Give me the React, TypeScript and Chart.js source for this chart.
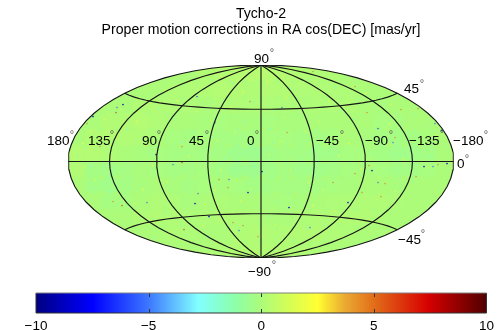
import React, { useEffect, useRef } from "react";
import { Chart, registerables } from "chart.js";

Chart.register(...registerables);

const titleLines = ["Tycho-2", "Proper motion corrections in RA cos(DEC) [mas/yr]"];
const meridians = [-180, -135, -90, -45, 0, 45, 90, 135, 180];
const parallels = [-45, 0, 45];
const colorbarTicks = [-10, -5, 0, 5, 10];

// colour scale
const scaleStops = [-10, -7.5, -5, -2.8, -1.2, 0, 2.5, 3.7, 5, 7.4, 10];
const scaleColours = [[0,0,130],[0,0,255],[60,120,255],[130,255,255],[140,255,170],[172,252,122],[255,255,50],[235,170,50],[225,110,25],[215,0,0],[80,0,0]];

// map plane units: x across, y up, centre of the ellipse at 0,0
const speckX = [-168,-138,-145,-144,-174,-64,-79,-105,-161,-188,-46,-88,-79,-104,163,186,172,177,111,108,94,117,124,101,120,87,28,49,1,72,155,21,80,106,140,117,174,181,157,132,12,26,52,94,-11,134,-139,-148,-114,-66,-13,-42,-77,-65,-52,-53,-18,-22,-63,-171,-169,-32,-33,-28,-108,-3];
const speckY = [45,57,49,54,38,65,15,7,15,5,39,-3,-1,-1,-5,-2,-5,-3,-9,-4,-12,-21,-22,-31,-35,-41,-46,-66,-10,-21,-15,54,51,49,52,33,38,31,53,19,19,29,90,75,60,24,-44,-40,-41,-42,-31,-18,-68,-67,-55,-76,-64,-69,-32,-5,-27,-18,-26,-61,-76,-75];
const speckValue = [-9,-9,7,-6,5,-7,5,-9,5,3,-6,-6,7,5,-9,-9,-6,5,-9,5,5,-6,5,5,5,-9,-9,-6,-9,5,5,-6,-3,5,5,-8,-6,-9,5,-6,-3,5,5,5,5,5,7,5,-6,-9,-9,5,7,5,-9,-3,5,-6,-6,-3,-3,-6,5,5,-3,5];

// fine grain of the sky, estimated
const grainX = [-40,-12,22,48,-70,-28,6,38,74,-96,-58,-18,30,62,104,-118,-84,-46,-8,26,68,96,130,-140,-102,-64,-30,14,50,84,120,152,-156,-124,-88,-50,-16,24,58,92,128,166,-170,-134,-98,-66,-26,10,44,82,112,146,176,-178,-146,-116,-80,-44,-14,20,56,88,126,158,184,-184,-150,-112,-72,-36,8,40,78,110,142,170,-176,-138,-108,-76,-40,-6,30,66,100,136,168,-166,-130,-94,-60,-24,12,48,84,118,152,-150,-118,-82,-46,-10,28,62,98,134,-126,-92,-56,-20,16,52,88,116,-96,-60,-28,8,42,74,-58,-22,14,46];
const grainY = [86,88,85,82,80,78,79,77,74,71,72,70,73,69,68,62,61,63,60,64,60,62,57,52,53,50,54,51,52,49,53,47,42,40,43,41,39,44,40,42,38,36,30,32,28,31,29,33,30,27,32,28,26,18,20,16,19,21,17,20,16,18,21,17,15,6,4,8,5,3,7,4,6,9,3,5,-6,-8,-4,-7,-9,-5,-8,-4,-7,-9,-6,-18,-16,-20,-17,-19,-15,-21,-18,-16,-20,-30,-28,-32,-29,-27,-31,-28,-33,-30,-42,-40,-43,-39,-41,-44,-40,-38,-52,-54,-51,-55,-53,-50,-64,-66,-63,-67];
const grainValue = [1.6,-1.2,1.3,-0.9,1.5,-1.3,1.7,0.9,-1.1,1.4,-1.2,1.6,-1.4,1.2,1.5,-1.3,1.7,0.8,-1.5,1.3,1.6,-1,1.4,1.6,-1.2,1.3,1.8,-1.4,1.1,-1.5,1.5,-1.1,1.3,1.6,-1.3,1.2,-1.6,1.4,0.9,-1.2,1.7,-1.3,1.5,-1.4,1.2,-1.2,1.6,-1.5,1.3,1.1,-1.1,-1.4,1.5,1.8,-1.1,1.3,-1.4,1.6,-1.6,1.1,-1.3,1.6,-1.2,1.4,-1,-1.3,1.5,-1.1,1.4,-1.5,1.2,-1.4,1.6,-1,1.2,-1.4,1.6,-1.3,1.7,-1.2,1.4,-1.5,1.1,-1.2,1.6,-1.3,1.3,1.5,-1.2,1.6,-1,1.3,-1.3,1.7,-1.1,1.4,-1.2,-1.3,1.7,-1,1.5,1.2,-1.4,1.6,-1.1,1.3,1.5,-1.2,1.6,1.1,-1.4,1.7,-1,1.3,-1.2,1.4,1.6,-1.1,1.5,1.2,1.7,-1.1,1.4,-1.2];

// local mean of the correction, 12 rows (north to south) of 24 cells
const fieldValues = [
  [0,0,0,0,0,0,0,0,0.3,0.4,0.5,0.5,0.5,0.4,0.3,0.3,0.2,0,0,0,0,0,0,0],
  [0,0,0,0,0,0,0.2,0.2,0.3,0.4,0.3,0.2,0.3,0.3,0.2,0.2,0.1,0.1,0,0,0,0,0,0],
  [0,0,0,0,0.3,0.3,0.2,0.1,0,0.1,0.2,0.1,0.1,0.1,0,0.1,0.1,0.2,0,-0.1,0,0,0,0],
  [0,0,0.3,0.3,0.4,0.2,0,0,-0.1,-0.2,-0.1,-0.1,-0.2,-0.1,-0.1,0,0,0,0,-0.2,-0.2,0,0,0],
  [0,0.3,0.4,0.3,0.2,0,-0.2,-0.3,-0.2,-0.3,-0.4,-0.3,-0.2,-0.2,-0.3,-0.3,-0.2,0,-0.1,-0.3,-0.4,-0.3,-0.1,0],
  [0.4,0.4,0.2,0,-0.1,-0.2,-0.3,-0.3,-0.3,-0.4,-0.7,-0.8,-0.5,-0.3,-0.4,-0.6,-0.5,-0.2,-0.2,-0.4,-0.6,-0.6,-0.4,0],
  [0.3,-0.4,-0.5,-0.3,-0.1,-0.2,-0.3,-0.3,-0.2,-0.4,-0.7,-0.8,-0.5,-0.3,-0.5,-0.6,-0.4,-0.2,-0.1,-0.2,-0.4,-0.4,-0.2,0],
  [0,-0.4,-0.6,-0.4,-0.1,0,-0.1,-0.3,-0.2,-0.1,-0.2,-0.4,-0.4,-0.3,-0.3,-0.3,-0.2,-0.1,0,0,-0.1,0,0,0],
  [0,0,-0.3,-0.2,0,0.2,0.1,-0.1,0,0.1,0,0,-0.1,-0.2,-0.1,0,0.1,0.1,0.2,0.2,0.1,0,0,0],
  [0,0,0,0,0.2,0.3,0.2,0.1,0.1,0.2,0.2,0.1,0,0,0.1,0.2,0.2,0.3,0.3,0.1,0,0,0,0],
  [0,0,0,0,0,0,0.2,0.1,0,0,0.2,0.3,0.2,0.2,0.3,0.3,0.2,0.1,0,0,0,0,0,0],
  [0,0,0,0,0,0,0,0,0.1,0.2,0.3,0.3,0.3,0.3,0.2,0.1,0,0,0,0,0,0,0,0],
];

const graticuleLabels = [
  { text: "180", x: -214, y: 16, dx: 25, dy: 14 },
  { text: "135", x: -173, y: 16, dx: 24, dy: 14 },
  { text: "90", x: -119, y: 16, dx: 17, dy: 14 },
  { text: "45", x: -72, y: 16, dx: 18, dy: 14 },
  { text: "0", x: -14, y: 16, dx: 10, dy: 14 },
  { text: "\u221245", x: 55, y: 16, dx: 26, dy: 14 },
  { text: "\u221290", x: 104, y: 16, dx: 26, dy: 14 },
  { text: "\u2212135", x: 148, y: 16, dx: 33, dy: 15 },
  { text: "\u2212180", x: 192, y: 16, dx: 33, dy: 14 },
  { text: "0", x: 196, y: -7, dx: 10, dy: 13 },
  { text: "45", x: 143, y: 68, dx: 18, dy: 13 },
  { text: "\u221245", x: 137, y: -83, dx: 25, dy: 14 },
  { text: "90", x: -7, y: 98, dx: 18, dy: 14 },
  { text: "\u221290", x: -13, y: -114, dx: 26, dy: 14 },
];

const HALF_W = 192.75;
const HALF_H = 96.5;
const LABEL_FONT = '13.5px "Liberation Sans"';
const DEGREE_SIZE = 11;
const latSamples = [-90,-85,-80,-75,-70,-65,-60,-55,-50,-45,-40,-35,-30,-25,-20,-15,-10,-5,0,5,10,15,20,25,30,35,40,45,50,55,60,65,70,75,80,85,90];
const lonSamples = [-180,-170,-160,-150,-140,-130,-120,-110,-100,-90,-80,-70,-60,-50,-40,-30,-20,-10,0,10,20,30,40,50,60,70,80,90,100,110,120,130,140,150,160,170,180];

// Hammer equal-area projection onto the map plane
function hammer(lon: number, lat: number) {
  const l = (lon * Math.PI) / 180;
  const p = (lat * Math.PI) / 180;
  const d = Math.sqrt(1 + Math.cos(p) * Math.cos(l / 2));
  return {
    x: (HALF_W * Math.cos(p) * Math.sin(l / 2)) / d,
    y: (HALF_H * Math.sin(p)) / d,
  };
}

function colourAt(v: number) {
  let i = 0;
  while (i < scaleStops.length - 2 && v > scaleStops[i + 1]) i++;
  const t = Math.max(0, Math.min(1, (v - scaleStops[i]) / (scaleStops[i + 1] - scaleStops[i])));
  return scaleColours[i].map((c, k) => Math.round(c + (scaleColours[i + 1][k] - c) * t));
}
const colourCss = (v: number, a = 1) => {
  const [r, g, b] = colourAt(v);
  return `rgba(${r},${g},${b},${a})`;
};

const lineStyle = {
  showLine: true,
  pointRadius: 0,
  borderColor: "#161616",
  borderWidth: 1.15,
  tension: 0,
  order: 0,
};

const ellipseClip = {
  id: "ellipseClip",
  beforeDatasetDraw(chart: any, args: any) {
    if (args.meta.label !== "field") return;
    const { ctx } = chart;
    const x = chart.scales.x;
    const y = chart.scales.y;
    ctx.save();
    ctx.beginPath();
    ctx.ellipse(x.getPixelForValue(0), y.getPixelForValue(0), x.getPixelForValue(HALF_W) - x.getPixelForValue(0), y.getPixelForValue(0) - y.getPixelForValue(HALF_H), 0, 0, Math.PI * 2);
    ctx.clip();
  },
  afterDatasetDraw(chart: any, args: any) {
    if (args.meta.label === "field") chart.ctx.restore();
  },
};

const mapLabels = {
  id: "mapLabels",
  afterDatasetsDraw(chart: any) {
    const { ctx } = chart;
    const x = chart.scales.x;
    const y = chart.scales.y;
    ctx.save();
    ctx.textBaseline = "alphabetic";
    for (const l of graticuleLabels) {
      const px = x.getPixelForValue(l.x);
      const py = y.getPixelForValue(l.y);
      ctx.textAlign = "left";
      ctx.font = LABEL_FONT;
      ctx.fillStyle = "#000";
      ctx.fillText(l.text, px, py);
      ctx.textAlign = "center";
      ctx.font = `${DEGREE_SIZE}px "Liberation Sans"`;
      ctx.fillStyle = "#555";
      ctx.fillText("\u00b0", px + l.dx, py - l.dy + 0.55 * DEGREE_SIZE);
    }
    ctx.restore();
  },
};

const colorbarFrame = {
  id: "colorbarFrame",
  afterDatasetsDraw(chart: any) {
    const { ctx, chartArea: a } = chart;
    const x = chart.scales.x;
    ctx.save();
    ctx.lineWidth = 1;
    ctx.strokeStyle = "#333";
    ctx.beginPath();
    ctx.moveTo(a.left, a.top);
    ctx.lineTo(a.left, a.bottom);
    ctx.lineTo(a.right, a.bottom);
    ctx.lineTo(a.right, a.top);
    for (const t of colorbarTicks.slice(1, -1)) {
      const px = Math.round(x.getPixelForValue(t)) + 0.5;
      ctx.moveTo(px, a.top);
      ctx.lineTo(px, a.top + 4);
      ctx.moveTo(px, a.bottom);
      ctx.lineTo(px, a.bottom - 4);
    }
    ctx.stroke();
    ctx.strokeStyle = "#808080";
    ctx.beginPath();
    ctx.moveTo(a.left, a.top);
    ctx.lineTo(a.right, a.top);
    ctx.stroke();
    ctx.restore();
  },
};

export default function App() {
  const mapRef = useRef<HTMLCanvasElement>(null);
  const barRef = useRef<HTMLCanvasElement>(null);

  useEffect(() => {
    const fieldPts: any[] = [];
    const fieldCols: string[] = [];
    fieldValues.forEach((row, j) =>
      row.forEach((v, i) => {
        fieldPts.push({ x: -184 + 16 * i, y: 88 - 16 * j });
        fieldCols.push(colourCss(v, 0.6));
      })
    );

    const outline = [
      ...latSamples.map((lat) => hammer(-180, lat)),
      ...[...latSamples].reverse().map((lat) => hammer(180, lat)),
    ];

    const map = new Chart(mapRef.current!, {
      type: "scatter",
      data: {
        datasets: [
          ...meridians.map((lon) => ({
            ...lineStyle,
            label: `lon ${lon}`,
            data: latSamples.map((lat) => hammer(lon, lat)),
          })),
          ...parallels.map((lat) => ({
            ...lineStyle,
            label: `lat ${lat}`,
            data: lonSamples.map((lon) => hammer(lon, lat)),
          })),
          {
            label: "specks",
            data: speckX.map((x, i) => ({ x, y: speckY[i] })),
            pointRadius: 0.85,
            pointBorderWidth: 0,
            pointBackgroundColor: speckValue.map((v) => colourCss(v, v < -8 ? 0.9 : 0.6)),
            order: 1,
          },
          {
            label: "grain",
            data: grainX.map((x, i) => ({ x, y: grainY[i] })),
            pointRadius: 1.1,
            pointBorderWidth: 0,
            pointBackgroundColor: grainValue.map((v) => colourCss(v, 0.7)),
            order: 1.5,
          },
          {
            label: "field",
            data: fieldPts,
            pointRadius: 9,
            pointBorderWidth: 0,
            pointBackgroundColor: fieldCols,
            order: 2,
          },
          {
            label: "sky",
            data: outline,
            showLine: true,
            pointRadius: 0,
            borderWidth: 0,
            fill: "shape",
            backgroundColor: colourCss(0),
            tension: 0,
            order: 3,
          },
        ] as any,
      },
      options: {
        animation: false,
        responsive: false,
        layout: { padding: { left: 68.25, right: 44.25, top: 0, bottom: 72 } },
        scales: {
          x: { type: "linear", min: -HALF_W, max: HALF_W, display: false },
          y: { type: "linear", min: -HALF_H, max: HALF_H, display: false },
        },
        plugins: {
          legend: { display: false },
          tooltip: { enabled: false },
          title: {
            display: true,
            text: titleLines,
            color: "#000",
            font: { family: "Liberation Sans", size: 14.1, weight: "normal", lineHeight: 1.12 },
            padding: { top: 6, bottom: 27.4 },
          },
        },
      },
      plugins: [ellipseClip, mapLabels],
    } as any);

    const bar = new Chart(barRef.current!, {
      type: "bar",
      data: {
        labels: ["colorbar"],
        datasets: [
          {
            label: "scale",
            data: [[colorbarTicks[0], colorbarTicks[colorbarTicks.length - 1]]],
            barPercentage: 1,
            categoryPercentage: 1,
            borderWidth: 0,
            backgroundColor: (ctx: any) => {
              const area = ctx.chart.chartArea;
              if (!area) return "#000";
              const g = ctx.chart.ctx.createLinearGradient(area.left, 0, area.right, 0);
              scaleStops.forEach((s) => g.addColorStop((s + 10) / 20, colourCss(s)));
              return g;
            },
          },
        ] as any,
      },
      options: {
        animation: false,
        responsive: false,
        indexAxis: "y",
        layout: { padding: { left: 36, right: 11.5, top: 293, bottom: 0 } },
        scales: {
          x: {
            type: "linear",
            min: -10,
            max: 10,
            afterFit(s: any) {
              s.paddingLeft = 0;
              s.paddingRight = 0;
              s.height = 17;
            },
            grid: { display: false },
            border: { display: false },
            ticks: {
              stepSize: 5,
              maxRotation: 0,
              padding: -3,
              color: "#000",
              font: { family: "Liberation Sans", size: 13.5 },
              callback: (v: any) => String(v).replace("-", "\u2212"),
            },
          },
          y: { display: false },
        },
        plugins: {
          legend: { display: false },
          tooltip: { enabled: false },
          title: { display: false },
        },
      },
      plugins: [colorbarFrame],
    } as any);

    return () => {
      map.destroy();
      bar.destroy();
    };
  }, []);

  return (
    <div style={{ position: "absolute", left: 0, top: 0, width: 498, height: 330, background: "#fff" }}>
      <canvas ref={mapRef} width={498} height={330} style={{ position: "absolute", left: 0, top: 0 }} />
      <canvas ref={barRef} width={498} height={330} style={{ position: "absolute", left: 0, top: 0 }} />
    </div>
  );
}
